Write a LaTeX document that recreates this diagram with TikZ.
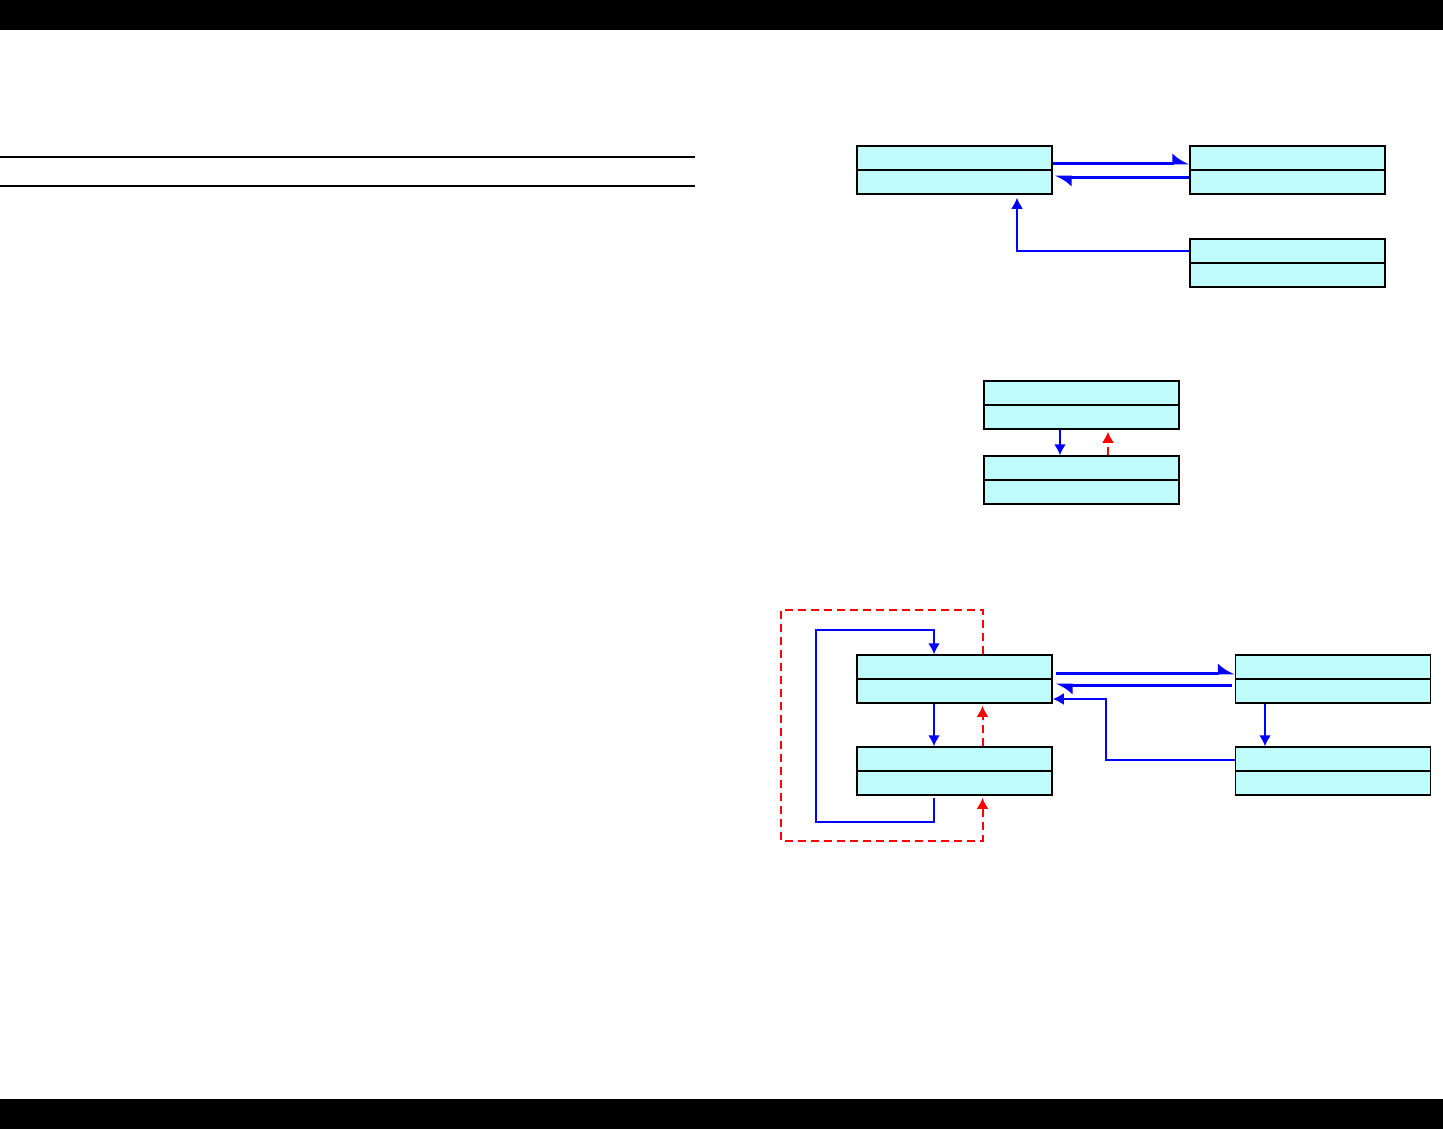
\documentclass[tikz,border=0pt]{standalone}
\usetikzlibrary{arrows.meta,calc}
\definecolor{boxfill}{RGB}{192,252,252}

\begin{document}
\begin{tikzpicture}[x=0.5pt, y=-0.5pt, box/.style={draw, line width=0.75pt, fill=boxfill, inner sep=0pt, minimum width=97.5pt, minimum height=24pt}, arrow/.style={-{Latex[length=5.5pt, width=6pt]}, blue, line width=1pt}, pair/.style={-{Latex[harpoon, length=7pt, width=10pt]}, blue, line width=1.5pt}, back/.style={-{Latex[length=5.5pt, width=6pt]}, red, line width=1pt, dash pattern=on 4pt off 2.5pt}]
\useasboundingbox (0,0) rectangle (1443,1129);
\fill[black] (0,0) rectangle (1443,30);
\fill[black] (0,1099) rectangle (1443,1129);
\draw[line width=0.6pt] (0,157) -- (695,157);
\draw[line width=0.6pt] (0,186) -- (695,186);
% first group
\node[box] (master) at (954.5,170) {};
\node[box] (slave) at (1287.5,170) {};
\node[box] (aux) at (1287.5,263) {};
% second group
\node[box] (upper) at (1081.5,405) {};
\node[box] (lower) at (1081.5,480) {};
% third group
\node[box] (main) at (954.5,679) {};
\node[box] (sub) at (954.5,771) {};
\node[box] (peer) at (1333,679) {};
\node[box] (leaf) at (1333,771) {};
\foreach \n in {master,slave,aux,upper,lower,main,sub,peer,leaf}
  \draw[line width=0.75pt] (\n.west) -- (\n.east);
\draw[pair] ([yshift=3.5pt]master.east) -- ([yshift=3.5pt]slave.west);
\draw[pair] ([yshift=-3.5pt]slave.west) -- ([yshift=-3.5pt,xshift=1pt]master.east);
\draw[arrow] ([yshift=6pt]aux.west) -| ([xshift=31.25pt,yshift=-1.5pt]master.south);
\draw[arrow] ([xshift=-10.75pt]upper.south) -- ([xshift=-10.75pt]lower.north);
\draw[back] ([xshift=13.25pt]lower.north) -- ([xshift=13.25pt,yshift=-1pt]upper.south);
\draw[pair] ([yshift=3pt,xshift=1.5pt]main.east) -- ([yshift=3pt]peer.west);
\draw[pair] ([yshift=-3pt,xshift=-1.5pt]peer.west) -- ([yshift=-3pt,xshift=1.5pt]main.east);
\draw[arrow] ([yshift=5.5pt]leaf.west) -| (1106,699) -- ([yshift=-10pt]main.east);
\draw[arrow] ([xshift=-34pt]peer.south) -- ([xshift=-34pt]leaf.north);
\draw[arrow] ([xshift=-10.25pt]main.south) -- ([xshift=-10.25pt]sub.north);
\draw[back] ([xshift=14pt]sub.north) -- ([xshift=14pt,yshift=-1pt]main.south);
\draw[arrow] ([xshift=-10.25pt,yshift=-1pt]sub.south) -- ++(0,24) -| (816,630) -| ([xshift=-10.25pt]main.north);
\draw[back] ([xshift=14pt]main.north) |- (781,610) -- (781,841) -| ([xshift=14pt,yshift=-1pt]sub.south);
\end{tikzpicture}
\end{document}
